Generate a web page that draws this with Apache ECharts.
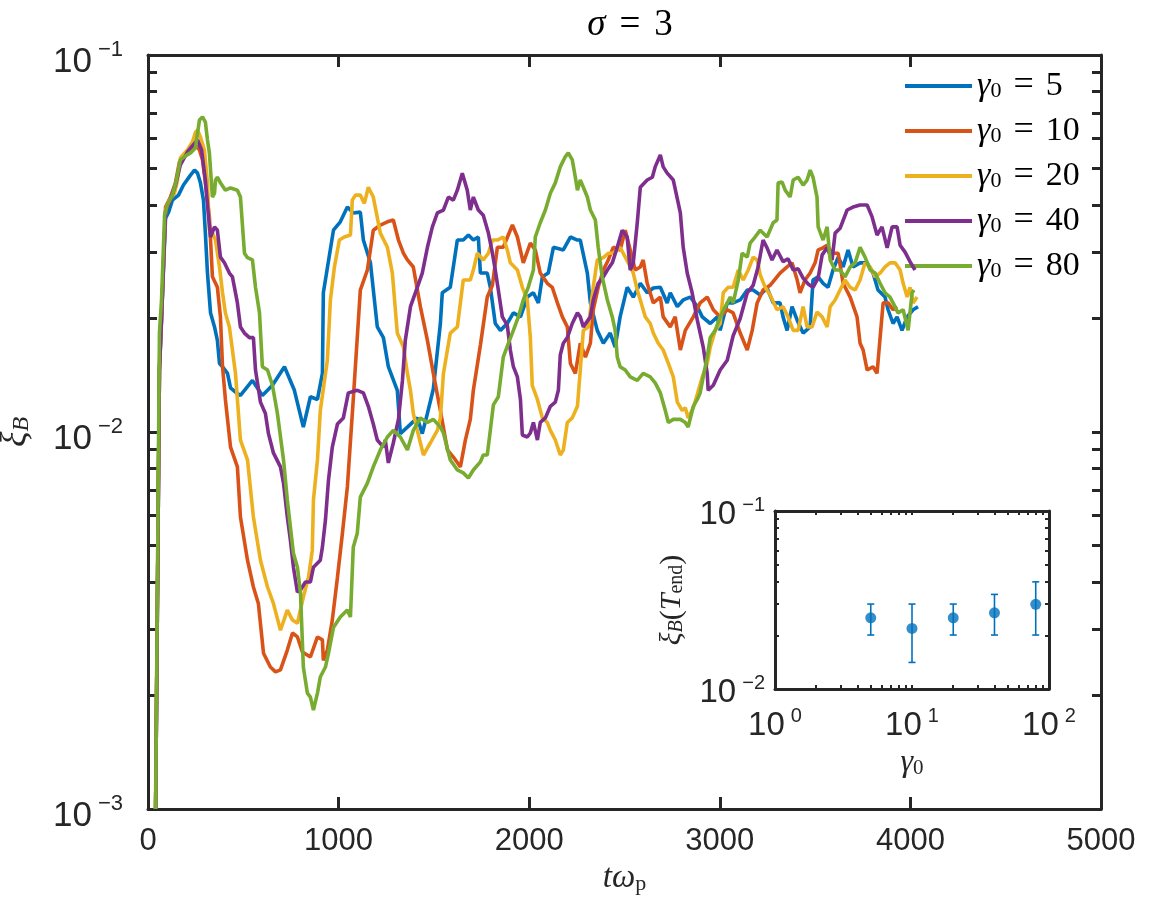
<!DOCTYPE html>
<html>
<head>
<meta charset="utf-8">
<script src="https://cdn.jsdelivr.net/npm/echarts@6/dist/echarts.min.js"></script>
<style>
  html, body { margin: 0; padding: 0; background: #fff; }
  #chart { width: 1167px; height: 911px; }
</style>
</head>
<body>
<div id="chart"></div>
<script>
// xi_B(t), one pair of arrays per gamma0 run
const t5 = [40,60,71,81,92,108,128,160,186,223,244,260,275,291,301,312,328,349,364,375,391,417,433,464,485,548,600,653,716,768,815,852,889,915,920,973,1009,1046,1077,1114,1130,1167,1203,1235,1261,1308,1324,1361,1413,1439,1466,1497,1534,1544,1586,1623,1654,1681,1707,1733,1744,1780,1796,1822,1849,1885,1917,1954,1990,2022,2048,2069,2100,2127,2179,2216,2253,2268,2305,2321,2357,2389,2425,2451,2477,2514,2546,2583,2619,2651,2688,2724,2740,2777,2808,2845,2882,2908,2950,2987,3002,3039,3070,3107,3144,3175,3212,3248,3280,3316,3332,3353,3379,3406,3437,3474,3489,3516,3542,3568,3594,3621,3647,3673,3699,3736,3773,3804,3830,3867,3883,3909,3930,3956,3983,4014,4040];
const xi5 = [0.001,0.0146,0.0198,0.0269,0.0369,0.0383,0.0412,0.0425,0.0452,0.0480,0.0495,0.0486,0.0458,0.0412,0.0337,0.0264,0.0207,0.0190,0.0175,0.0152,0.0149,0.0143,0.0131,0.0127,0.0125,0.0137,0.0125,0.0133,0.0149,0.0129,0.0103,0.0124,0.0122,0.0143,0.0234,0.0343,0.0361,0.0395,0.0381,0.0383,0.0323,0.0281,0.0190,0.0178,0.0149,0.0129,0.0099,0.0103,0.0109,0.0099,0.0112,0.0130,0.0194,0.0234,0.0242,0.0323,0.0323,0.0333,0.0323,0.0329,0.0264,0.0264,0.0242,0.0194,0.0186,0.0194,0.0207,0.0202,0.0228,0.0234,0.0220,0.0258,0.0264,0.0309,0.0304,0.0329,0.0323,0.0323,0.0264,0.0220,0.0186,0.0172,0.0183,0.0168,0.0202,0.0242,0.0228,0.0248,0.0234,0.0241,0.0242,0.0220,0.0234,0.0215,0.0224,0.0228,0.0215,0.0202,0.0194,0.0202,0.0186,0.0220,0.0220,0.0224,0.0238,0.0238,0.0231,0.0241,0.0220,0.0220,0.0202,0.0186,0.0215,0.0198,0.0183,0.0190,0.0253,0.0258,0.0248,0.0242,0.0269,0.0291,0.0274,0.0304,0.0274,0.0281,0.0281,0.0264,0.0238,0.0228,0.0211,0.0194,0.0202,0.0186,0.0202,0.0211,0.0215];

const t10 = [40,60,71,81,92,118,144,165,191,223,249,270,286,301,322,338,364,380,391,406,433,469,485,522,553,579,606,642,669,695,731,758,784,810,852,889,915,920,941,967,994,1020,1046,1077,1114,1151,1182,1219,1256,1287,1314,1340,1361,1392,1429,1466,1497,1534,1571,1602,1639,1665,1691,1707,1744,1780,1807,1833,1864,1912,1938,1969,2006,2032,2058,2095,2121,2148,2174,2200,2216,2242,2268,2295,2321,2336,2362,2389,2415,2441,2477,2504,2530,2556,2583,2598,2619,2651,2688,2703,2740,2766,2793,2819,2861,2897,2934,2966,3002,3039,3070,3107,3144,3170,3196,3227,3264,3300,3316,3353,3379,3406,3421,3447,3474,3500,3516,3542,3563,3589,3621,3647,3684,3720,3736,3752,3773,3804,3825,3841,3857,3883,3909,3930];
const xi10 = [0.001,0.0146,0.0201,0.0277,0.0395,0.0420,0.0458,0.0521,0.0543,0.0560,0.0577,0.0560,0.0527,0.0458,0.0372,0.0258,0.0242,0.0202,0.0149,0.0122,0.00912,0.00808,0.00595,0.00457,0.00388,0.00351,0.00259,0.00238,0.00231,0.00234,0.00264,0.00293,0.00286,0.00261,0.00253,0.00286,0.00281,0.00248,0.00264,0.00317,0.00412,0.00539,0.00715,0.0122,0.0238,0.0269,0.0343,0.0354,0.0361,0.0365,0.0323,0.0298,0.0286,0.0274,0.0215,0.0175,0.0143,0.0114,0.00896,0.00858,0.00808,0.00952,0.0108,0.0129,0.0170,0.0228,0.0245,0.0309,0.0309,0.0354,0.0329,0.0281,0.0317,0.0304,0.0264,0.0248,0.0242,0.0220,0.0202,0.0190,0.0152,0.0143,0.0172,0.0158,0.0172,0.0211,0.0242,0.0269,0.0286,0.0309,0.0304,0.0343,0.0304,0.0269,0.0274,0.0286,0.0248,0.0220,0.0228,0.0202,0.0190,0.0202,0.0165,0.0186,0.0202,0.0220,0.0228,0.0211,0.0202,0.0211,0.0207,0.0183,0.0165,0.0186,0.0220,0.0238,0.0245,0.0258,0.0264,0.0274,0.0281,0.0253,0.0234,0.0253,0.0264,0.0281,0.0304,0.0308,0.0313,0.0298,0.0298,0.0248,0.0228,0.0202,0.0172,0.0165,0.0146,0.0149,0.0143,0.0178,0.0220,0.0220,0.0211,0.0215];

const t20 = [39,60,76,87,92,113,139,155,170,207,233,249,260,275,296,312,322,338,354,375,391,406,427,443,459,469,485,522,553,590,627,658,695,731,758,784,815,842,862,868,889,904,941,957,978,1004,1030,1062,1072,1088,1114,1135,1156,1182,1219,1256,1282,1308,1340,1361,1377,1392,1413,1445,1481,1518,1534,1550,1586,1623,1654,1691,1707,1728,1759,1786,1807,1833,1864,1885,1901,1938,1964,1990,2006,2016,2043,2069,2095,2111,2137,2163,2179,2200,2226,2253,2268,2284,2310,2336,2357,2389,2415,2441,2477,2493,2520,2546,2567,2583,2609,2635,2651,2677,2703,2730,2756,2777,2803,2819,2834,2861,2882,2908,2934,2950,2976,3002,3018,3044,3070,3097,3123,3149,3175,3196,3212,3238,3264,3300,3332,3358,3385,3411,3437,3458,3484,3510,3537,3563,3579,3605,3631,3657,3684,3710,3736,3762,3789,3815,3841,3867,3893,3920,3946,3962,3983,3998,4014,4035];
const xi20 = [0.001,0.0152,0.0238,0.0337,0.0388,0.0412,0.0430,0.0466,0.0533,0.0560,0.0588,0.0624,0.0632,0.0606,0.0560,0.0458,0.0343,0.0337,0.0323,0.0274,0.0234,0.0207,0.0190,0.0165,0.0143,0.0122,0.00952,0.00843,0.00595,0.00457,0.00388,0.00351,0.00298,0.00337,0.00317,0.00311,0.00365,0.00412,0.00486,0.00660,0.00843,0.0114,0.0155,0.0224,0.0274,0.0323,0.0329,0.0333,0.0412,0.0425,0.0425,0.0404,0.0446,0.0420,0.0337,0.0309,0.0264,0.0183,0.0168,0.0143,0.0129,0.0112,0.0101,0.00869,0.00935,0.0101,0.0109,0.0143,0.0183,0.0190,0.0253,0.0253,0.0269,0.0298,0.0286,0.0298,0.0323,0.0323,0.0329,0.0304,0.0281,0.0269,0.0242,0.0224,0.0178,0.0133,0.0122,0.0109,0.0106,0.0101,0.00952,0.00869,0.00896,0.0106,0.0109,0.0117,0.0146,0.0186,0.0190,0.0242,0.0286,0.0290,0.0298,0.0298,0.0309,0.0298,0.0281,0.0264,0.0238,0.0224,0.0202,0.0194,0.0183,0.0172,0.0165,0.0152,0.0140,0.0120,0.0114,0.0116,0.0109,0.0116,0.0126,0.0140,0.0152,0.0168,0.0186,0.0194,0.0234,0.0242,0.0242,0.0269,0.0253,0.0269,0.0291,0.0286,0.0261,0.0242,0.0231,0.0211,0.0215,0.0202,0.0186,0.0186,0.0215,0.0190,0.0190,0.0208,0.0202,0.0190,0.0215,0.0224,0.0238,0.0253,0.0242,0.0238,0.0253,0.0281,0.0274,0.0258,0.0264,0.0274,0.0281,0.0281,0.0269,0.0248,0.0228,0.0242,0.0220,0.0228];

const t40 = [40,60,71,81,92,118,144,170,207,233,260,281,301,317,328,349,364,380,401,427,443,459,469,485,506,532,553,564,590,616,632,658,695,711,731,747,763,784,800,826,852,868,904,915,931,947,967,994,1025,1051,1098,1130,1156,1182,1203,1235,1245,1261,1287,1314,1335,1350,1377,1413,1439,1466,1492,1518,1550,1576,1602,1623,1649,1675,1691,1707,1733,1759,1786,1807,1822,1838,1859,1885,1901,1917,1938,1954,1964,1990,2006,2022,2043,2058,2085,2111,2137,2153,2163,2179,2200,2226,2253,2268,2284,2321,2336,2362,2389,2410,2436,2462,2488,2514,2530,2546,2567,2583,2619,2646,2661,2688,2703,2724,2756,2793,2808,2829,2855,2882,2913,2934,2939,2966,3002,3039,3070,3107,3144,3175,3201,3227,3248,3274,3300,3332,3358,3385,3411,3437,3463,3489,3516,3537,3563,3589,3605,3631,3668,3699,3736,3773,3799,3825,3851,3878,3904,3930,3946,3972,3998,4024];
const xi40 = [0.001,0.0146,0.0201,0.0272,0.0383,0.0412,0.0452,0.0511,0.0553,0.0574,0.0595,0.0560,0.0466,0.0376,0.0329,0.0350,0.0343,0.0291,0.0281,0.0264,0.0258,0.0234,0.0220,0.0190,0.0183,0.0178,0.0178,0.0146,0.0120,0.0112,0.0099,0.00880,0.00808,0.00732,0.00595,0.00517,0.00438,0.00376,0.00381,0.00400,0.00400,0.00438,0.00457,0.00495,0.00584,0.00746,0.00912,0.0105,0.0109,0.0127,0.0129,0.0127,0.0117,0.0105,0.00952,0.00912,0.00952,0.00828,0.00935,0.0108,0.0137,0.0175,0.0215,0.0242,0.0264,0.0309,0.0350,0.0381,0.0388,0.0420,0.0412,0.0438,0.0486,0.0438,0.0388,0.0420,0.0388,0.0376,0.0337,0.0298,0.0269,0.0238,0.0202,0.0192,0.0165,0.0149,0.0140,0.0122,0.00982,0.00970,0.00994,0.0106,0.00952,0.0106,0.0109,0.0117,0.0120,0.0129,0.0160,0.0172,0.0178,0.0194,0.0207,0.0202,0.0190,0.0202,0.0224,0.0248,0.0258,0.0269,0.0281,0.0309,0.0343,0.0329,0.0269,0.0281,0.0359,0.0446,0.0466,0.0474,0.0505,0.0543,0.0505,0.0486,0.0466,0.0381,0.0309,0.0264,0.0234,0.0198,0.0168,0.0143,0.0129,0.0133,0.0146,0.0155,0.0180,0.0200,0.0234,0.0245,0.0274,0.0323,0.0308,0.0286,0.0304,0.0283,0.0288,0.0269,0.0271,0.0256,0.0247,0.0242,0.0256,0.0295,0.0308,0.0286,0.0337,0.0347,0.0388,0.0395,0.0400,0.0400,0.0372,0.0333,0.0350,0.0308,0.0350,0.0350,0.0313,0.0300,0.0283,0.0269];

const t80 = [40,60,71,87,102,128,149,170,197,223,249,260,270,286,301,312,322,338,349,354,364,380,406,433,469,485,506,522,548,564,585,600,627,653,679,711,731,747,763,784,800,815,836,852,868,889,904,931,947,973,1009,1046,1062,1077,1098,1114,1151,1182,1219,1256,1287,1324,1361,1392,1429,1466,1497,1534,1550,1586,1623,1654,1681,1707,1744,1759,1780,1796,1812,1838,1864,1891,1917,1943,1969,1995,2022,2032,2058,2085,2111,2137,2163,2189,2205,2226,2242,2253,2268,2284,2305,2321,2347,2362,2383,2410,2436,2451,2462,2477,2504,2530,2567,2598,2635,2661,2688,2714,2730,2756,2793,2819,2834,2861,2882,2897,2913,2934,2950,2976,3002,3029,3055,3070,3097,3117,3144,3159,3185,3212,3248,3280,3300,3306,3327,3343,3369,3385,3411,3437,3458,3474,3489,3510,3516,3542,3563,3579,3605,3631,3657,3684,3710,3736,3762,3789,3815,3841,3867,3893,3909,3935,3962,3988,4009,4019];
const xi80 = [0.001,0.0183,0.0224,0.0376,0.0400,0.0425,0.0466,0.0527,0.0540,0.0550,0.0567,0.0621,0.0672,0.0685,0.0664,0.0595,0.0550,0.0420,0.0430,0.0466,0.0474,0.0458,0.0438,0.0444,0.0438,0.0420,0.0298,0.0290,0.0286,0.0242,0.0207,0.0149,0.0146,0.0133,0.0112,0.00843,0.00660,0.00560,0.00477,0.00438,0.00374,0.00238,0.00203,0.00198,0.00183,0.00203,0.00224,0.00238,0.00259,0.00303,0.00323,0.00337,0.00323,0.00495,0.00539,0.00672,0.00732,0.00808,0.00896,0.00970,0.0101,0.00970,0.00896,0.0101,0.0109,0.0106,0.0108,0.0103,0.00994,0.00843,0.00793,0.00779,0.00755,0.00793,0.00833,0.00869,0.00869,0.0101,0.0118,0.0124,0.0158,0.0172,0.0186,0.0202,0.0224,0.0242,0.0269,0.0329,0.0359,0.0388,0.0430,0.0458,0.0505,0.0537,0.0550,0.0527,0.0474,0.0438,0.0466,0.0446,0.0420,0.0388,0.0365,0.0309,0.0258,0.0224,0.0202,0.0186,0.0158,0.0149,0.0146,0.0140,0.0137,0.0143,0.0140,0.0135,0.0127,0.0114,0.0106,0.0108,0.0108,0.0106,0.0103,0.0117,0.0122,0.0127,0.0140,0.0158,0.0178,0.0186,0.0202,0.0215,0.0228,0.0220,0.0253,0.0298,0.0291,0.0317,0.0329,0.0343,0.0329,0.0359,0.0365,0.0458,0.0460,0.0438,0.0420,0.0466,0.0474,0.0452,0.0466,0.0495,0.0474,0.0420,0.0350,0.0323,0.0350,0.0286,0.0269,0.0269,0.0258,0.0274,0.0281,0.0309,0.0291,0.0269,0.0264,0.0248,0.0234,0.0228,0.0220,0.0207,0.0211,0.0186,0.0234,0.0238];

// inset: xi_B at the end of each run, with spread
const gamma0 = [5, 10, 20, 40, 80];
const xiEnd = [0.0251, 0.0219, 0.0251, 0.0268, 0.0299];
const xiEndLow = [0.0201, 0.0141, 0.0201, 0.0201, 0.0201];
const xiEndHigh = [0.0300, 0.0300, 0.0300, 0.0340, 0.0400];

// axis ticks
const mainDecades = [0.001, 0.01, 0.1];
const insetYDecades = [0.01, 0.1];
const insetXDecades = [1, 10, 100];

const runNames = ['5', '10', '20', '40', '80'];
const runT = [t5, t10, t20, t40, t80];
const runXi = [xi5, xi10, xi20, xi40, xi80];
const colors = ['#0072BD', '#D95319', '#EDB120', '#7E2F8E', '#77AC30'];

const ink = '#262626';
const sans = 'Liberation Sans';
const serif = 'Liberation Serif';

// 1..9 x each decade, plus the last decade
function logTicks(decades) {
    const out = [];
    for (let i = 0; i < decades.length - 1; i++) {
        for (let m = 1; m <= 9; m++) out.push(+(m * decades[i]).toPrecision(3));
    }
    out.push(decades[decades.length - 1]);
    return out;
}

function powLabel(v) {
    const e = Math.round(Math.log10(v));
    return '{b|10}{e|' + String(e).replace('-', '\u2212') + '}';
}
// base "10" sits a little below its tick, exponent raised over it
function powRich(size, baseDrop, supPad) {
    const es = Math.round(size * 0.62);
    return {
        b: { fontFamily: sans, fontSize: size, color: ink, lineHeight: size + 1, verticalAlign: 'top', padding: [baseDrop, 0, 0, 0] },
        e: { fontFamily: sans, fontSize: es, color: ink, lineHeight: es + 1, verticalAlign: 'top', padding: [supPad, 0, 0, 6] }
    };
}

function boxAxis(extra) {
    return Object.assign({
        axisLine: { show: true, onZero: false, lineStyle: { color: ink, width: 3 } },
        splitLine: { show: false },
        axisTick: { show: true, inside: true, length: 10, lineStyle: { color: ink, width: 2 } },
        axisLabel: { show: false }
    }, extra);
}

const chart = echarts.init(document.getElementById('chart'));

const lineSeries = runNames.map((name, k) => ({
    type: 'line',
    name: name,
    xAxisIndex: 0,
    yAxisIndex: 0,
    data: runT[k].map((t, i) => [t, runXi[k][i]]),
    showSymbol: false,
    symbol: 'none',
    clip: true,
    lineStyle: { color: colors[k], width: 3.6 },
    itemStyle: { color: colors[k] },
    z: 2 + k
}));

const option = {
    animation: false,
    backgroundColor: '#fff',
    title: {
        text: '{i|σ}{eq|=}{n|3}',
        left: 625,
        top: 2,
        textAlign: 'center',
        textStyle: {
            fontWeight: 'normal',
            rich: {
                i: { fontFamily: serif, fontStyle: 'italic', fontSize: 37, color: '#000', fontWeight: 'normal' },
                eq: { fontFamily: serif, fontSize: 37, color: '#000', fontWeight: 'normal', padding: [0, 14, 0, 14] },
                n: { fontFamily: serif, fontSize: 37, color: '#000', fontWeight: 'normal' }
            }
        }
    },
    legend: {
        orient: 'vertical',
        left: 905,
        top: 68,
        padding: 0,
        itemWidth: 67,
        itemHeight: 4,
        itemGap: 9,
        icon: 'rect',
        data: runNames,
        formatter: name => '{g|γ}{s|0}{eq|=}{n|' + name + '}',
        textStyle: {
            lineHeight: 32,
            rich: {
                g: { fontFamily: serif, fontStyle: 'italic', fontSize: 34, color: '#000', lineHeight: 32 },
                s: { fontFamily: serif, fontSize: 22, color: '#000', verticalAlign: 'bottom', lineHeight: 18 },
                eq: { fontFamily: serif, fontSize: 36, color: '#000', lineHeight: 32, padding: [0, 12, 0, 12] },
                n: { fontFamily: serif, fontSize: 34, color: '#000', lineHeight: 32 }
            }
        }
    },
    grid: [
        { left: 148, top: 55, width: 953, height: 754, outerBoundsMode: 'none', containLabel: false },
        { left: 775, top: 511, width: 274, height: 178, outerBoundsMode: 'none', containLabel: false,
          show: true, backgroundColor: '#fff', borderWidth: 0, z: 10 }
    ],
    xAxis: [
        boxAxis({
            gridIndex: 0, type: 'value', position: 'bottom', min: 0, max: 5000, interval: 1000,
            axisTick: { show: true, inside: true, length: 12, lineStyle: { color: ink, width: 3 } },
            axisLabel: { show: true, fontFamily: sans, fontSize: 31, color: ink, margin: 17, formatter: v => String(v) },
            name: '{t|tω}{s|p}', nameLocation: 'middle', nameGap: 44,
            nameTextStyle: { rich: {
                t: { fontFamily: serif, fontStyle: 'italic', fontSize: 33, color: ink },
                s: { fontFamily: serif, fontSize: 22, color: ink, verticalAlign: 'bottom', lineHeight: 14 }
            } }
        }),
        boxAxis({
            gridIndex: 0, type: 'value', position: 'top', min: 0, max: 5000, interval: 1000,
            axisTick: { show: true, inside: true, length: 12, lineStyle: { color: ink, width: 3 } }
        }),
        boxAxis({
            gridIndex: 1, type: 'log', logBase: 10, position: 'bottom', min: 1, max: 100,
            axisTick: { show: true, inside: true, length: 4, lineStyle: { color: ink, width: 2 }, customValues: logTicks(insetXDecades) },
            axisLabel: { show: true, customValues: insetXDecades, formatter: powLabel, rich: powRich(33, 4, 1), margin: 16 },
            name: '{g|γ}{s|0}', nameLocation: 'middle', nameGap: 58,
            nameTextStyle: { rich: {
                g: { fontFamily: serif, fontStyle: 'italic', fontSize: 32, color: ink },
                s: { fontFamily: serif, fontSize: 21, color: ink, verticalAlign: 'bottom', lineHeight: 14 }
            } },
            z: 11
        }),
        boxAxis({
            gridIndex: 1, type: 'log', logBase: 10, position: 'top', min: 1, max: 100,
            axisTick: { show: true, inside: true, length: 4, lineStyle: { color: ink, width: 2 }, customValues: logTicks(insetXDecades) },
            z: 11
        })
    ],
    yAxis: [
        boxAxis({
            gridIndex: 0, type: 'log', logBase: 10, position: 'left', min: 0.001, max: 0.1,
            axisTick: { show: true, inside: true, length: 9, lineStyle: { color: ink, width: 3 }, customValues: logTicks(mainDecades) },
            axisLabel: { show: true, customValues: mainDecades, formatter: powLabel, rich: powRich(35, 8, 2), margin: 25 },
            name: '{x|ξ}{s|B}', nameLocation: 'middle', nameRotate: 90, nameGap: 114,
            nameTextStyle: { rich: {
                x: { fontFamily: serif, fontStyle: 'italic', fontSize: 36, color: ink },
                s: { fontFamily: serif, fontStyle: 'italic', fontSize: 24, color: ink, verticalAlign: 'bottom', lineHeight: 16 }
            } }
        }),
        boxAxis({
            gridIndex: 0, type: 'log', logBase: 10, position: 'right', min: 0.001, max: 0.1,
            axisTick: { show: true, inside: true, length: 9, lineStyle: { color: ink, width: 3 }, customValues: logTicks(mainDecades) }
        }),
        boxAxis({
            gridIndex: 1, type: 'log', logBase: 10, position: 'left', min: 0.01, max: 0.1,
            axisTick: { show: true, inside: true, length: 4, lineStyle: { color: ink, width: 2 }, customValues: logTicks(insetYDecades) },
            axisLabel: { show: true, customValues: insetYDecades, formatter: powLabel, rich: powRich(33, 4, 1), margin: 10 },
            name: '{x|ξ}{s|B}{p|(}{T|T}{e|end}{p|)}', nameLocation: 'middle', nameRotate: 90, nameGap: 88,
            nameTextStyle: { rich: {
                x: { fontFamily: serif, fontStyle: 'italic', fontSize: 30, color: ink },
                s: { fontFamily: serif, fontStyle: 'italic', fontSize: 20, color: ink, verticalAlign: 'bottom', lineHeight: 12 },
                p: { fontFamily: serif, fontSize: 30, color: ink },
                T: { fontFamily: serif, fontStyle: 'italic', fontSize: 30, color: ink },
                e: { fontFamily: serif, fontSize: 20, color: ink, verticalAlign: 'bottom', lineHeight: 12 }
            } },
            z: 11
        }),
        boxAxis({
            gridIndex: 1, type: 'log', logBase: 10, position: 'right', min: 0.01, max: 0.1,
            axisTick: { show: true, inside: true, length: 4, lineStyle: { color: ink, width: 2 }, customValues: logTicks(insetYDecades) },
            z: 11
        })
    ],
    series: lineSeries.concat([
        {
            type: 'custom',
            name: 'spread',
            xAxisIndex: 2,
            yAxisIndex: 2,
            data: gamma0.map((g, i) => [g, xiEndLow[i], xiEndHigh[i]]),
            encode: { x: 0, y: [1, 2] },
            z: 12,
            renderItem: function (params, api) {
                const lo = api.coord([api.value(0), api.value(1)]);
                const hi = api.coord([api.value(0), api.value(2)]);
                const cap = 3.5;
                const st = { stroke: '#0072BD', lineWidth: 1.6 };
                return {
                    type: 'group',
                    children: [
                        { type: 'line', shape: { x1: lo[0], y1: lo[1], x2: hi[0], y2: hi[1] }, style: st },
                        { type: 'line', shape: { x1: lo[0] - cap, y1: lo[1], x2: lo[0] + cap, y2: lo[1] }, style: st },
                        { type: 'line', shape: { x1: hi[0] - cap, y1: hi[1], x2: hi[0] + cap, y2: hi[1] }, style: st }
                    ]
                };
            }
        },
        {
            type: 'scatter',
            name: 'end',
            xAxisIndex: 2,
            yAxisIndex: 2,
            data: gamma0.map((g, i) => [g, xiEnd[i]]),
            symbol: 'circle',
            symbolSize: 11,
            itemStyle: { color: '#0072BD' },
            z: 13
        }
    ])
};

chart.setOption(option);
</script>
</body>
</html>
